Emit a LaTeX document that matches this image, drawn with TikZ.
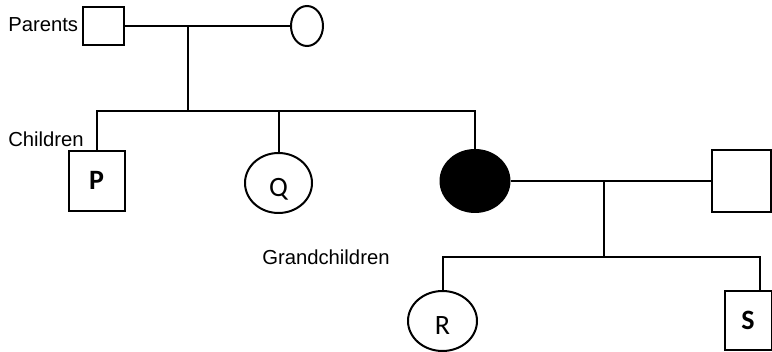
\documentclass[tikz,border=0pt]{standalone}
\usepackage{fontspec}
\setmainfont{Liberation Sans}
\newfontfamily\letterFont{Carlito}
\usetikzlibrary{shapes.geometric}

\begin{document}
\begin{tikzpicture}[%%
  x=0.75pt,y=-0.75pt,%%
  lineStyle/.style={-,line width=1.5pt},%%
  shapeSize/.style 2 args={minimum width=0.75*#1pt,minimum height=0.75*#2pt},%%
  maleStyle/.style={draw,rectangle,line width=1.5pt,inner sep=0pt,%%
    text height=13.3pt,text depth=0pt,font=\letterFont\fontsize{21}{24}\selectfont},%%
  femaleStyle/.style={draw,ellipse,line width=1.5pt,inner sep=0pt,%%
    text height=13.3pt,text depth=0pt,font=\letterFont\fontsize{21}{24}\selectfont},%%
  lowText/.style={text height=20.8pt},%%
  textStyle/.style={anchor=base west,inner sep=0pt,font=\fontsize{15.2}{18}\selectfont}
]
%%
\useasboundingbox (0,0) rectangle (772,352);
%%
%% The parents.
\node[maleStyle,shapeSize={41}{38}] (father) at (103.5,26) {};
\node[femaleStyle,shapeSize={32}{40}] (mother) at (307,26) {};
\coordinate (parentsMid) at (188,26);
\coordinate (siblingBar) at (0,111);
%%
%% The children.
\node[maleStyle,shapeSize={56}{60}] (P) at (96.5,181) {\textbf{P}};
\node[femaleStyle,lowText,shapeSize={67}{60}] (Q) at (278.5,183) {Q};
\node[femaleStyle,fill=black,shapeSize={69}{62}] (affected) at (475,181) {};
\node[maleStyle,shapeSize={59}{62}] (husband) at (741.5,181) {};
\coordinate (coupleMid) at (604,181);
\coordinate (grandBar) at (0,257);
%%
%% The grandchildren.
\node[femaleStyle,lowText,shapeSize={69}{60}] (R) at (442.5,321) {R};
\node[maleStyle,shapeSize={47}{59}] (S) at (748,320.5) {\textbf{S}};
\coordinate (sDrop) at (760,257);
%%
%% The generation labels.
\node[textStyle] (parentsLabel) at (8,32) {Parents};
\node[textStyle] (childrenLabel) at (8,147) {Children};
\node[textStyle] (grandLabel) at (262,265) {Grandchildren};
%%
%% Marriage lines and descent lines.
\draw[lineStyle] (father) -- (mother);
\draw[lineStyle] (parentsMid) -- (parentsMid |- siblingBar);
\draw[lineStyle] (P.north) -- (P.north |- siblingBar) -- (affected.north |- siblingBar) -- (affected.north);
\draw[lineStyle] (Q.north) -- (Q.north |- siblingBar);
\draw[lineStyle] (affected) -- (husband);
\draw[lineStyle] (coupleMid) -- (coupleMid |- grandBar);
\draw[lineStyle] (R.north) -- (R.north |- grandBar) -- (sDrop) -- (sDrop |- S.north);
\end{tikzpicture}
\end{document}
